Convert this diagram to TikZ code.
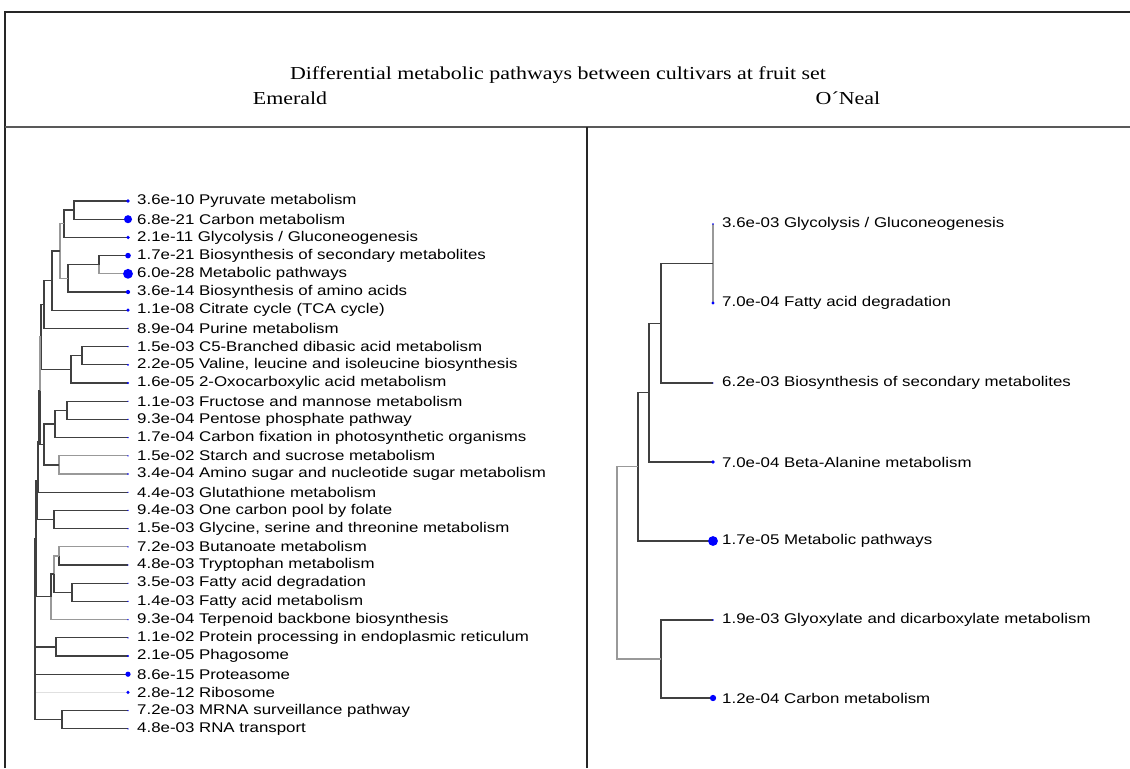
\documentclass[tikz,border=0pt]{standalone}
\usepackage{tikz}
\usepackage{tkz-euclide}
\usepackage{fontspec}
\setmainfont{Liberation Serif}
\setsansfont{Liberation Sans}
\usetikzlibrary{positioning}

\tikzset{
  boxline/.style={line width=0.6pt, draw=black!85},
  branch/.style={line width=0.7pt, draw=black!75},
  pale/.style={line width=0.7pt, draw=black!40},
  faint/.style={line width=0.7pt, draw=black!12},
  dotfill/.style={fill=blue},
  leaf/.style={anchor=west, inner sep=0pt, xscale=1.2,
    font=\sffamily\fontsize{8}{9.6}\selectfont},
  head/.style={inner sep=0pt, xscale=1.2,
    font=\rmfamily\fontsize{10.4}{12}\selectfont},
}

\begin{document}
\begin{tikzpicture}[x=0.02cm, y=-0.02cm]
    \useasboundingbox (0,0) rectangle (1130,768);
    % table frame
    \tkzDefPoint(5,12){TL} \tkzDefPoint(1130,12){TR}
    \tkzDefPoint(5,768){BL}
    \tkzDefPoint(5,127){ML} \tkzDefPoint(1130,127){MR}
    \tkzDefPoint(587,127){MT} \tkzDefPoint(587,768){MB}
    \draw[boxline] (BL) -- (TL) -- (TR);
    \draw[boxline, line width=0.9pt, draw=black!65] (ML) -- (MR);
    \draw[boxline] (MT) -- (MB);
    \node[head] (title) at (558,75)
      {Differential metabolic pathways between cultivars at fruit set};
    \node[head] (emerald) at (290,98) {Emerald};
    \node[head] (oneal) at (848,98) {O´Neal};

    % Emerald: leaves
    \tkzDefPoint(128,201){E1}    \tkzDefPoint(128,219.2){E2}
    \tkzDefPoint(128,237.4){E3}  \tkzDefPoint(128,255.6){E4}
    \tkzDefPoint(128,273.8){E5}  \tkzDefPoint(128,292){E6}
    \tkzDefPoint(128,310.2){E7}  \tkzDefPoint(128,328.4){E8}
    \tkzDefPoint(128,346.6){E9}  \tkzDefPoint(128,364.8){E10}
    \tkzDefPoint(128,383){E11}   \tkzDefPoint(128,401.2){E12}
    \tkzDefPoint(128,419.4){E13} \tkzDefPoint(128,437.6){E14}
    \tkzDefPoint(128,455.8){E15} \tkzDefPoint(128,474){E16}
    \tkzDefPoint(128,492.2){E17} \tkzDefPoint(128,510.4){E18}
    \tkzDefPoint(128,528.6){E19} \tkzDefPoint(128,546.8){E20}
    \tkzDefPoint(128,565){E21}   \tkzDefPoint(128,583.2){E22}
    \tkzDefPoint(128,601.4){E23} \tkzDefPoint(128,619.6){E24}
    \tkzDefPoint(128,637.8){E25} \tkzDefPoint(128,656){E26}
    \tkzDefPoint(128,674.2){E27} \tkzDefPoint(128,692.4){E28}
    \tkzDefPoint(128,710.6){E29} \tkzDefPoint(128,728.8){E30}
    % Emerald: inner points
    \tkzDefPoint(74,210.1){EA}   \tkzDefPoint(64,223.75){EB}
    \tkzDefPoint(99,264.7){EC}   \tkzDefPoint(68,278.35){ED}
    \tkzDefPoint(60,251.05){EE}  \tkzDefPoint(52,280.6){EF}
    \tkzDefPoint(44,304.5){EG}   \tkzDefPoint(82,355.7){EH}
    \tkzDefPoint(71,369.35){EI}  \tkzDefPoint(41,336.9){EJ}
    \tkzDefPoint(67,410.3){EK}   \tkzDefPoint(55,423.95){EL}
    \tkzDefPoint(59,464.9){EM}   \tkzDefPoint(44,444.4){EN}
    \tkzDefPoint(40,390.65){EO}  \tkzDefPoint(38.5,441.4){EP}
    \tkzDefPoint(54,519.5){EQ}   \tkzDefPoint(37.5,480.45){ER}
    \tkzDefPoint(59,555.9){ES}   \tkzDefPoint(72,592.3){ET}
    \tkzDefPoint(54,574.1){EU}   \tkzDefPoint(51,596.85){EV}
    \tkzDefPoint(36,538.65){EW}  \tkzDefPoint(56,646.9){EX}
    \tkzDefPoint(62,719.7){EY}   \tkzDefPoint(35,629.2){EZ}
    % Emerald: branches
    \draw[branch] (EA) |- (E1);  \draw[branch] (EA) |- (E2);
    \draw[branch] (EB) |- (EA);  \draw[branch] (EB) |- (E3);
    \draw[branch] (EC) |- (E4);  \draw[pale] (EC) |- (E5);
    \draw[branch] (ED) |- (EC);  \draw[branch] (ED) |- (E6);
    \draw[pale] (EE) |- (EB);    \draw[pale] (EE) |- (ED);
    \draw[branch] (EF) |- (EE);  \draw[branch] (EF) |- (E7);
    \draw[branch] (EG) |- (EF);  \draw[branch] (EG) |- (E8);
    \draw[branch] (EH) |- (E9);  \draw[branch] (EH) |- (E10);
    \draw[branch] (EI) |- (EH);  \draw[branch] (EI) |- (E11);
    \draw[branch] (EJ) |- (EG);  \draw[branch] (EJ) |- (EI);
    \draw[branch] (EK) |- (E12); \draw[branch] (EK) |- (E13);
    \draw[branch] (EL) |- (EK);  \draw[branch] (EL) |- (E14);
    \draw[pale] (EM) |- (E15);   \draw[pale] (EM) |- (E16);
    \draw[branch] (EN) |- (EL);  \draw[branch] (EN) |- (EM);
    \draw[pale] (EO) |- (EJ);    \draw[branch] (EO) |- (EN);
    \draw[branch] (EP) |- (EO);  \draw[branch] (EP) |- (E17);
    \draw[branch] (EQ) |- (E18); \draw[branch] (EQ) |- (E19);
    \draw[branch] (ER) |- (EP);  \draw[branch] (ER) |- (EQ);
    \draw[pale] (ES) |- (E20);   \draw[branch] (ES) |- (E21);
    \draw[branch] (ET) |- (E22); \draw[branch] (ET) |- (E23);
    \draw[pale] (EU) |- (ES);    \draw[branch] (EU) |- (ET);
    \draw[branch] (EV) |- (EU);  \draw[pale] (EV) |- (E24);
    \draw[branch] (EW) |- (ER);  \draw[branch] (EW) |- (EV);
    \draw[branch] (EX) |- (E25); \draw[branch] (EX) |- (E26);
    \draw[branch] (EY) |- (E29); \draw[branch] (EY) |- (E30);
    \draw[branch] (EZ) |- (EW);  \draw[branch] (EZ) |- (EX);
    \draw[branch] (EZ) |- (E27); \draw[faint] (EZ) |- (E28);
    \draw[branch] (EZ) |- (EY);
    % Emerald: tips
    \fill[dotfill] (E1) circle (1.05pt); \fill[dotfill] (E2) circle (2.3pt);
    \fill[dotfill] (E3) circle (1.05pt); \fill[dotfill] (E4) circle (1.6pt);
    \fill[dotfill] (E5) circle (2.8pt);  \fill[dotfill] (E6) circle (1.2pt);
    \fill[dotfill] (E7) circle (1pt);    \fill[dotfill] (E27) circle (1.5pt);
    \fill[dotfill] (E28) circle (0.95pt); \fill[dotfill] (E26) circle (0.7pt);
    \fill[dotfill] (E10) circle (0.6pt); \fill[dotfill] (E11) circle (0.6pt);
    \fill[dotfill] (E8) circle (0.4pt);  \fill[dotfill] (E9) circle (0.4pt);
    \fill[dotfill] (E12) circle (0.4pt); \fill[dotfill] (E13) circle (0.4pt);
    \fill[dotfill] (E14) circle (0.45pt); \fill[dotfill] (E15) circle (0.4pt);
    \fill[dotfill] (E16) circle (0.45pt); \fill[dotfill] (E17) circle (0.4pt);
    \fill[dotfill] (E18) circle (0.4pt); \fill[dotfill] (E19) circle (0.4pt);
    \fill[dotfill] (E20) circle (0.4pt); \fill[dotfill] (E21) circle (0.4pt);
    \fill[dotfill] (E22) circle (0.4pt); \fill[dotfill] (E23) circle (0.4pt);
    \fill[dotfill] (E24) circle (0.4pt); \fill[dotfill] (E25) circle (0.4pt);
    \fill[dotfill] (E29) circle (0.4pt); \fill[dotfill] (E30) circle (0.4pt);
    % Emerald: labels
    \node[leaf, right=5pt of E1] (L1) {3.6e-10 Pyruvate metabolism};
    \node[leaf, right=5pt of E2] (L2) {6.8e-21 Carbon metabolism};
    \node[leaf, right=5pt of E3] (L3) {2.1e-11 Glycolysis / Gluconeogenesis};
    \node[leaf, right=5pt of E4] (L4) {1.7e-21 Biosynthesis of secondary metabolites};
    \node[leaf, right=5pt of E5] (L5) {6.0e-28 Metabolic pathways};
    \node[leaf, right=5pt of E6] (L6) {3.6e-14 Biosynthesis of amino acids};
    \node[leaf, right=5pt of E7] (L7) {1.1e-08 Citrate cycle (TCA cycle)};
    \node[leaf, right=5pt of E8] (L8) {8.9e-04 Purine metabolism};
    \node[leaf, right=5pt of E9] (L9) {1.5e-03 C5-Branched dibasic acid metabolism};
    \node[leaf, right=5pt of E10] (L10) {2.2e-05 Valine, leucine and isoleucine biosynthesis};
    \node[leaf, right=5pt of E11] (L11) {1.6e-05 2-Oxocarboxylic acid metabolism};
    \node[leaf, right=5pt of E12] (L12) {1.1e-03 Fructose and mannose metabolism};
    \node[leaf, right=5pt of E13] (L13) {9.3e-04 Pentose phosphate pathway};
    \node[leaf, right=5pt of E14] (L14) {1.7e-04 Carbon fixation in photosynthetic organisms};
    \node[leaf, right=5pt of E15] (L15) {1.5e-02 Starch and sucrose metabolism};
    \node[leaf, right=5pt of E16] (L16) {3.4e-04 Amino sugar and nucleotide sugar metabolism};
    \node[leaf, right=5pt of E17] (L17) {4.4e-03 Glutathione metabolism};
    \node[leaf, right=5pt of E18] (L18) {9.4e-03 One carbon pool by folate};
    \node[leaf, right=5pt of E19] (L19) {1.5e-03 Glycine, serine and threonine metabolism};
    \node[leaf, right=5pt of E20] (L20) {7.2e-03 Butanoate metabolism};
    \node[leaf, right=5pt of E21] (L21) {4.8e-03 Tryptophan metabolism};
    \node[leaf, right=5pt of E22] (L22) {3.5e-03 Fatty acid degradation};
    \node[leaf, right=5pt of E23] (L23) {1.4e-03 Fatty acid metabolism};
    \node[leaf, right=5pt of E24] (L24) {9.3e-04 Terpenoid backbone biosynthesis};
    \node[leaf, right=5pt of E25] (L25) {1.1e-02 Protein processing in endoplasmic reticulum};
    \node[leaf, right=5pt of E26] (L26) {2.1e-05 Phagosome};
    \node[leaf, right=5pt of E27] (L27) {8.6e-15 Proteasome};
    \node[leaf, right=5pt of E28] (L28) {2.8e-12 Ribosome};
    \node[leaf, right=5pt of E29] (L29) {7.2e-03 MRNA surveillance pathway};
    \node[leaf, right=5pt of E30] (L30) {4.8e-03 RNA transport};

    % O'Neal: leaves and inner points
    \tkzDefPoint(713,224){N1} \tkzDefPoint(713,303){N2}
    \tkzDefPoint(713,383){N3} \tkzDefPoint(713,462){N4}
    \tkzDefPoint(713,541){N5} \tkzDefPoint(713,620){N6}
    \tkzDefPoint(713,698){N7}
    \tkzDefPoint(713,263.5){NA} \tkzDefPoint(661,323.25){NB}
    \tkzDefPoint(649,392.6){NC} \tkzDefPoint(638,466.8){ND}
    \tkzDefPoint(661,659){NE}   \tkzDefPoint(617,562.9){NF}
    % O'Neal: branches
    \draw[pale] (NA) |- (N1);   \draw[pale] (NA) |- (N2);
    \draw[branch] (NB) |- (NA); \draw[branch] (NB) |- (N3);
    \draw[branch] (NC) |- (NB); \draw[branch] (NC) |- (N4);
    \draw[branch] (ND) |- (NC); \draw[branch] (ND) |- (N5);
    \draw[branch] (NE) |- (N6); \draw[branch] (NE) |- (N7);
    \draw[pale] (NF) |- (ND);   \draw[pale] (NF) |- (NE);
    % O'Neal: tips
    \fill[dotfill] (N1) circle (0.55pt); \fill[dotfill] (N2) circle (0.9pt);
    \fill[dotfill] (N3) circle (0.35pt); \fill[dotfill] (N4) circle (1.1pt);
    \fill[dotfill] (N5) circle (2.8pt);  \fill[dotfill] (N6) circle (0.55pt);
    \fill[dotfill] (N7) circle (1.8pt);
    % O'Neal: labels
    \node[leaf, right=5pt of N1] (M1) {3.6e-03 Glycolysis / Gluconeogenesis};
    \node[leaf, right=5pt of N2] (M2) {7.0e-04 Fatty acid degradation};
    \node[leaf, right=5pt of N3] (M3) {6.2e-03 Biosynthesis of secondary metabolites};
    \node[leaf, right=5pt of N4] (M4) {7.0e-04 Beta-Alanine metabolism};
    \node[leaf, right=5pt of N5] (M5) {1.7e-05 Metabolic pathways};
    \node[leaf, right=5pt of N6] (M6) {1.9e-03 Glyoxylate and dicarboxylate metabolism};
    \node[leaf, right=5pt of N7] (M7) {1.2e-04 Carbon metabolism};
  \end{tikzpicture}
\end{document}
